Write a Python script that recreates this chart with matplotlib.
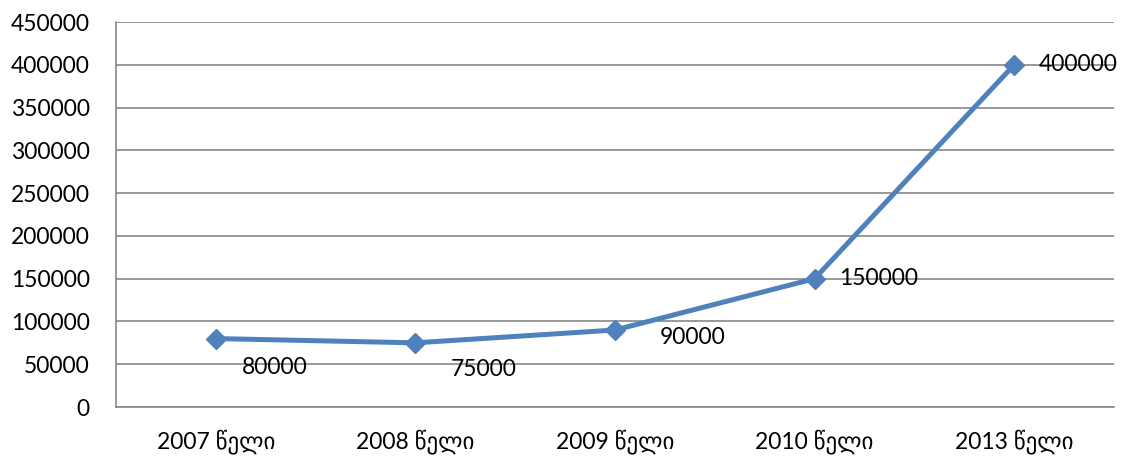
import matplotlib.pyplot as plt

plt.rcParams['font.family'] = ['Lato', 'DejaVu Sans']

# data
years = ['2007 წელი', '2008 წელი', '2009 წელი', '2010 წელი', '2013 წელი']
values = [80000, 75000, 90000, 150000, 400000]
# label offsets in pixels (dx, dy) relative to the point
label_offsets = [(26, -29), (35, -27), (45, -8), (25, 0), (25, 0)]

fig = plt.figure(figsize=(11.26, 4.57), dpi=100)
ax = fig.add_axes([116 / 1126, 50 / 457, 998 / 1126, 385 / 457])

x = list(range(len(years)))
ax.plot(x, values, color='#4F81BD', linewidth=3.6, marker='D', markersize=10.5,
        zorder=3)

for xi, v, (dx, dy) in zip(x, values, label_offsets):
    ax.annotate(str(v), (xi, v), xytext=(dx * 0.72, dy * 0.72),
                textcoords='offset points', ha='left', va='center',
                fontsize=16.5, color='black')

ax.set_xlim(-0.5, len(years) - 0.5)
ax.set_ylim(0, 450000)
ax.set_yticks(range(0, 450001, 50000))
ax.set_yticklabels([str(t) for t in range(0, 450001, 50000)], fontsize=16.5)
ax.set_xticks(x)
ax.set_xticklabels(years, fontsize=16.5)
ax.tick_params(axis='both', length=0)
ax.tick_params(axis='y', pad=19)
ax.tick_params(axis='x', pad=16)

ax.grid(axis='y', color='#878787', linewidth=1.2)
ax.set_axisbelow(True)
for s in ['top', 'right']:
    ax.spines[s].set_visible(False)
for s in ['left', 'bottom']:
    ax.spines[s].set_color('#878787')
    ax.spines[s].set_linewidth(1.2)

fig.savefig('out.png', dpi=100)
